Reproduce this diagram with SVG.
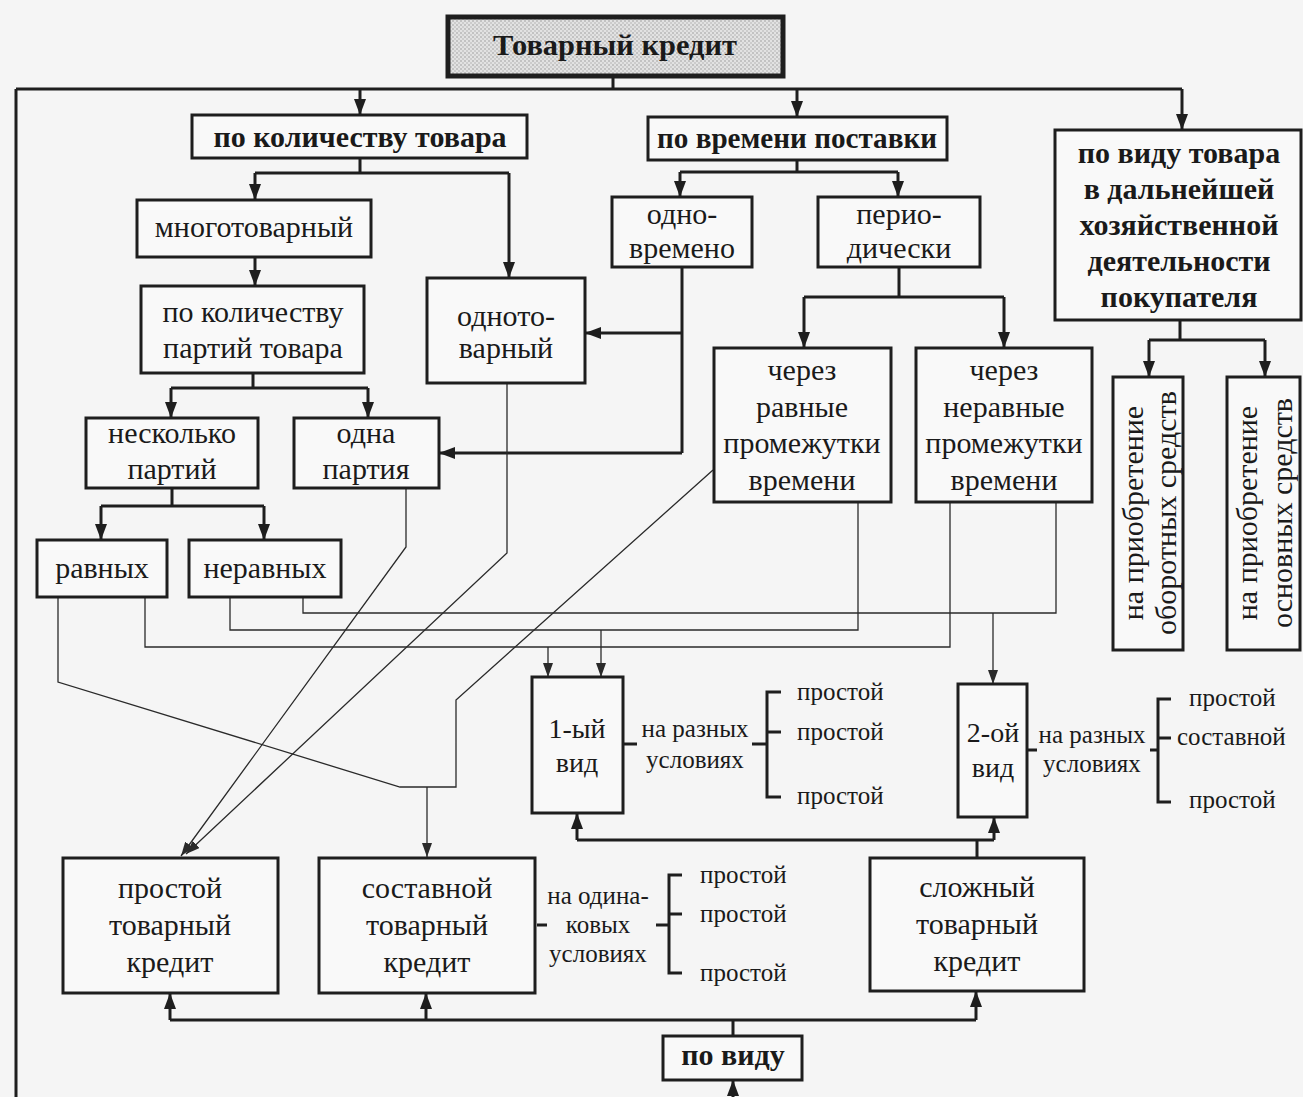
<svg xmlns="http://www.w3.org/2000/svg" width="1303" height="1097" viewBox="0 0 1303 1097">
<defs>
<style>
.box{fill:#f9f9f9;stroke:#1e1e1e;stroke-width:3}
.t{font-family:"Liberation Serif","Times New Roman",serif;font-size:30px;fill:#1a1a1a;text-anchor:middle}
.b{font-weight:bold}
.s{font-size:25px}
.l{text-anchor:start}
.k{stroke:#1e1e1e;stroke-width:3;fill:none}
.n{stroke:#2a2a2a;stroke-width:1.3;fill:none}
</style>
<pattern id="dots" width="4" height="4" patternUnits="userSpaceOnUse">
<rect width="4" height="4" fill="#e2e2e2"/>
<circle cx="1" cy="1" r="0.8" fill="#9a9a9a"/>
<circle cx="3" cy="3" r="0.8" fill="#b0b0b0"/>
</pattern>
<marker id="ah" viewBox="0 0 16 12" refX="16" refY="6" markerWidth="16" markerHeight="12" markerUnits="userSpaceOnUse" orient="auto">
<path d="M0,0 L16,6 L0,12 Z" fill="#1e1e1e"/>
</marker>
<marker id="as" viewBox="0 0 14 10" refX="14" refY="5" markerWidth="14" markerHeight="10" markerUnits="userSpaceOnUse" orient="auto">
<path d="M0,0 L14,5 L0,10 Z" fill="#2a2a2a"/>
</marker>
</defs>
<rect width="1303" height="1097" fill="#f5f5f5"/>

<g id="connectors">
<path class="k" d="M613,76 V89 M16,89 H1182 M16,89 V1097"/>
<path class="k" d="M360,89 V115" marker-end="url(#ah)"/>
<path class="k" d="M797,89 V117" marker-end="url(#ah)"/>
<path class="k" d="M1182,89 V130" marker-end="url(#ah)"/>
<path class="k" d="M360,158 V173 M255,173 H509"/>
<path class="k" d="M255,173 V200" marker-end="url(#ah)"/>
<path class="k" d="M509,173 V278" marker-end="url(#ah)"/>
<path class="k" d="M255,257 V286" marker-end="url(#ah)"/>
<path class="k" d="M253,373 V388 M171,388 H368"/>
<path class="k" d="M171,388 V418" marker-end="url(#ah)"/>
<path class="k" d="M368,388 V418" marker-end="url(#ah)"/>
<path class="k" d="M172,488 V506 M101,506 H264"/>
<path class="k" d="M101,506 V540" marker-end="url(#ah)"/>
<path class="k" d="M264,506 V540" marker-end="url(#ah)"/>
<path class="k" d="M797,160 V172 M680,172 H898"/>
<path class="k" d="M680,172 V197" marker-end="url(#ah)"/>
<path class="k" d="M898,172 V197" marker-end="url(#ah)"/>
<path class="k" d="M682,267 V453"/>
<path class="k" d="M682,333 H585" marker-end="url(#ah)"/>
<path class="k" d="M682,453 H439" marker-end="url(#ah)"/>
<path class="k" d="M899,267 V297 M804,297 H1004"/>
<path class="k" d="M804,297 V348" marker-end="url(#ah)"/>
<path class="k" d="M1004,297 V348" marker-end="url(#ah)"/>
<path class="k" d="M1180,320 V340 M1149,340 H1265"/>
<path class="k" d="M1149,340 V377" marker-end="url(#ah)"/>
<path class="k" d="M1265,340 V377" marker-end="url(#ah)"/>
<path class="n" d="M507,383 V553 L186,854" marker-end="url(#as)"/>
<path class="n" d="M406,488 V547 L181,856" marker-end="url(#as)"/>
<path class="n" d="M145,597 V647 H950 V502"/>
<path class="n" d="M548,647 V677" marker-end="url(#as)"/>
<path class="n" d="M230,597 V630 H858 V502"/>
<path class="n" d="M601,630 V677" marker-end="url(#as)"/>
<path class="n" d="M303,597 V613 H1056 V502"/>
<path class="n" d="M993,613 V684" marker-end="url(#as)"/>
<path class="n" d="M58,597 V682 L400,787 H456 V700 L713,470"/>
<path class="n" d="M427,787 V857" marker-end="url(#as)"/>
<path class="k" d="M577,840 H994 M977,858 V840"/>
<path class="k" d="M577,840 V813" marker-end="url(#ah)"/>
<path class="k" d="M994,840 V817" marker-end="url(#ah)"/>
<path class="k" d="M170,1020 H976 M733,1036 V1020"/>
<path class="k" d="M170,1020 V993" marker-end="url(#ah)"/>
<path class="k" d="M426,1020 V993" marker-end="url(#ah)"/>
<path class="k" d="M976,1020 V991" marker-end="url(#ah)"/>
<path class="k" d="M733,1097 V1080" marker-end="url(#ah)"/>
<path class="k" d="M623,744 H637 M752,744 H767 M781,692 H767 V797 H781 M767,732 H781"/>
<path class="k" d="M1027,750 H1037 M1150,750 H1158 M1171,699 H1158 V802 H1171 M1158,738 H1171"/>
<path class="k" d="M537,925 H547 M656,925 H669 M682,875 H669 V973 H682 M669,914 H682"/>
</g>

<g id="n-title">
<rect x="448" y="17" width="335" height="59" fill="url(#dots)" stroke="#1e1e1e" stroke-width="5"/>
<text class="t b" x="615" y="55" textLength="244" lengthAdjust="spacingAndGlyphs">Товарный кредит</text>
</g>
<g id="n-kol-tovara">
<rect class="box" x="192" y="115" width="335" height="43"/>
<text class="t b" x="360" y="147">по количеству товара</text>
</g>
<g id="n-vremeni">
<rect class="box" x="648" y="117" width="299" height="43"/>
<text class="t b" x="797" y="148" textLength="280" lengthAdjust="spacingAndGlyphs">по времени поставки</text>
</g>
<g id="n-vid-tovara">
<rect class="box" x="1055" y="130" width="246" height="190"/>
<text class="t b" x="1179" y="163">по виду товара</text>
<text class="t b" x="1179" y="199">в дальнейшей</text>
<text class="t b" x="1179" y="235">хозяйственной</text>
<text class="t b" x="1179" y="271">деятельности</text>
<text class="t b" x="1179" y="307">покупателя</text>
</g>
<g id="n-mnogo">
<rect class="box" x="137" y="200" width="234" height="57"/>
<text class="t" x="254" y="237">многотоварный</text>
</g>
<g id="n-partiy">
<rect class="box" x="141" y="286" width="223" height="87"/>
<text class="t" x="253" y="322">по количеству</text>
<text class="t" x="253" y="358">партий товара</text>
</g>
<g id="n-odno-tov">
<rect class="box" x="427" y="278" width="158" height="105"/>
<text class="t" x="506" y="326">одното-</text>
<text class="t" x="506" y="358">варный</text>
</g>
<g id="n-neskolko">
<rect class="box" x="86" y="418" width="172" height="70"/>
<text class="t" x="172" y="443">несколько</text>
<text class="t" x="172" y="479">партий</text>
</g>
<g id="n-odna">
<rect class="box" x="294" y="418" width="145" height="70"/>
<text class="t" x="366" y="443">одна</text>
<text class="t" x="366" y="479">партия</text>
</g>
<g id="n-ravnyh">
<rect class="box" x="37" y="540" width="130" height="57"/>
<text class="t" x="102" y="578">равных</text>
</g>
<g id="n-neravnyh">
<rect class="box" x="189" y="540" width="152" height="57"/>
<text class="t" x="265" y="578">неравных</text>
</g>
<g id="n-odnovremeno">
<rect class="box" x="612" y="197" width="140" height="70"/>
<text class="t" x="682" y="224">одно-</text>
<text class="t" x="682" y="258">времено</text>
</g>
<g id="n-periodicheski">
<rect class="box" x="818" y="197" width="162" height="70"/>
<text class="t" x="899" y="224">перио-</text>
<text class="t" x="899" y="258">дически</text>
</g>
<g id="n-ravnye-prom">
<rect class="box" x="714" y="348" width="177" height="154"/>
<text class="t" x="802" y="380">через</text>
<text class="t" x="802" y="417">равные</text>
<text class="t" x="802" y="453">промежутки</text>
<text class="t" x="802" y="490">времени</text>
</g>
<g id="n-neravnye-prom">
<rect class="box" x="916" y="348" width="176" height="154"/>
<text class="t" x="1004" y="380">через</text>
<text class="t" x="1004" y="417">неравные</text>
<text class="t" x="1004" y="453">промежутки</text>
<text class="t" x="1004" y="490">времени</text>
</g>
<g id="n-oborotnyh">
<rect class="box" x="1113" y="377" width="70" height="273"/>
<text class="t" x="1143" y="513" transform="rotate(-90 1143 513)">на приобретение</text>
<text class="t" x="1176" y="513" transform="rotate(-90 1176 513)">оборотных средств</text>
</g>
<g id="n-osnovnyh">
<rect class="box" x="1227" y="377" width="73" height="273"/>
<text class="t" x="1257" y="513" transform="rotate(-90 1257 513)">на приобретение</text>
<text class="t" x="1292" y="513" transform="rotate(-90 1292 513)">основных средств</text>
</g>
<g id="n-vid1">
<rect class="box" x="532" y="677" width="91" height="136"/>
<text class="t" x="577" y="738" style="font-size:28px">1-ый</text>
<text class="t" x="577" y="772" style="font-size:28px">вид</text>
</g>
<g id="n-vid1-label">
<text class="t s" x="695" y="737">на разных</text>
<text class="t s" x="695" y="768">условиях</text>
<text class="t s l" x="797" y="700">простой</text>
<text class="t s l" x="797" y="740">простой</text>
<text class="t s l" x="797" y="804">простой</text>
</g>
<g id="n-vid2">
<rect class="box" x="958" y="684" width="69" height="133"/>
<text class="t" x="993" y="742" style="font-size:28px">2-ой</text>
<text class="t" x="993" y="777" style="font-size:28px">вид</text>
</g>
<g id="n-vid2-label">
<text class="t s" x="1092" y="743">на разных</text>
<text class="t s" x="1092" y="772">условиях</text>
<text class="t s l" x="1189" y="706">простой</text>
<text class="t s l" x="1177" y="745">составной</text>
<text class="t s l" x="1189" y="808">простой</text>
</g>
<g id="n-prostoy">
<rect class="box" x="63" y="858" width="215" height="135"/>
<text class="t" x="170" y="898">простой</text>
<text class="t" x="170" y="935">товарный</text>
<text class="t" x="170" y="972">кредит</text>
</g>
<g id="n-sostavnoy">
<rect class="box" x="319" y="858" width="216" height="135"/>
<text class="t" x="427" y="898">составной</text>
<text class="t" x="427" y="935">товарный</text>
<text class="t" x="427" y="972">кредит</text>
</g>
<g id="n-sostavnoy-label">
<text class="t s" x="598" y="904">на одина-</text>
<text class="t s" x="598" y="933">ковых</text>
<text class="t s" x="598" y="962">условиях</text>
<text class="t s l" x="700" y="883">простой</text>
<text class="t s l" x="700" y="922">простой</text>
<text class="t s l" x="700" y="981">простой</text>
</g>
<g id="n-slozhny">
<rect class="box" x="870" y="858" width="214" height="133"/>
<text class="t" x="977" y="897">сложный</text>
<text class="t" x="977" y="934">товарный</text>
<text class="t" x="977" y="971">кредит</text>
</g>
<g id="n-po-vidu">
<rect class="box" x="663" y="1036" width="139" height="44"/>
<text class="t b" x="733" y="1065">по виду</text>
</g>
</svg>
